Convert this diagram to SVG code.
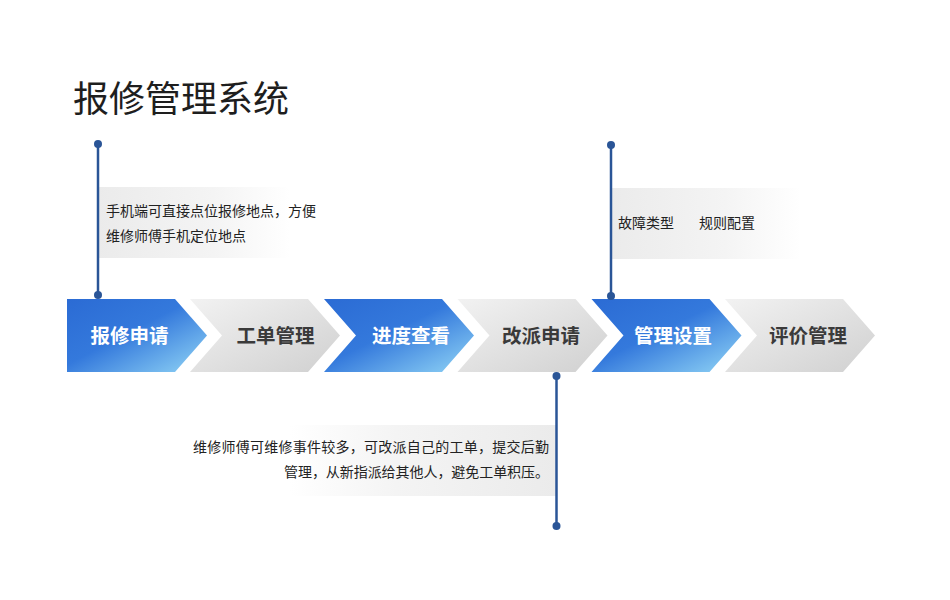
<svg xmlns="http://www.w3.org/2000/svg" width="950" height="600" viewBox="0 0 950 600">
<defs>
<linearGradient id="gBlue" x1="0" y1="0" x2="1" y2="1">
<stop offset="0" stop-color="#2b6bd4"/>
<stop offset="0.45" stop-color="#3479dc"/>
<stop offset="1" stop-color="#92d6f6"/>
</linearGradient>
<linearGradient id="gGray" x1="0" y1="0" x2="1" y2="1">
<stop offset="0" stop-color="#f2f2f2"/>
<stop offset="1" stop-color="#d0d0d0"/>
</linearGradient>
<linearGradient id="gFadeR" x1="0" y1="0" x2="1" y2="0">
<stop offset="0" stop-color="#ebebeb"/>
<stop offset="0.6" stop-color="#f4f4f4"/>
<stop offset="1" stop-color="#ffffff"/>
</linearGradient>
<linearGradient id="gFadeL" x1="0" y1="0" x2="1" y2="0">
<stop offset="0" stop-color="#ffffff"/>
<stop offset="0.4" stop-color="#f4f4f4"/>
<stop offset="1" stop-color="#ebebeb"/>
</linearGradient>
</defs>
<style>
text{font-family:"Noto Sans CJK SC","Liberation Sans",sans-serif;}
.title{font-size:36px;fill:#1e1e1e;}
.step{font-size:19.5px;font-weight:600;text-anchor:middle;}
.w{fill:#ffffff;}
.d{fill:#3a3a3a;}
.note{font-size:14px;fill:#222222;}
.blue{fill:url(#gBlue);}
.gray{fill:url(#gGray);}
.stem{stroke:#2a5597;stroke-width:2.5;fill:none;}
.dot{fill:#2a5597;}
</style>
<rect width="950" height="600" fill="#ffffff"/>
<text class="title" x="73" y="112">报修管理系统</text>

<g id="note1">
<rect x="98" y="187" width="192" height="71" fill="url(#gFadeR)"/>
<text class="note" x="106" y="216">手机端可直接点位报修地点，方便</text>
<text class="note" x="106" y="241">维修师傅手机定位地点</text>
</g>
<g id="note2">
<rect x="611" y="188" width="190" height="71" fill="url(#gFadeR)"/>
<text class="note" x="618" y="228">故障类型</text>
<text class="note" x="699" y="228">规则配置</text>
</g>
<g id="note3">
<rect x="290" y="425" width="266" height="71" fill="url(#gFadeL)"/>
<text class="note" x="193" y="452" textLength="356" lengthAdjust="spacing">维修师傅可维修事件较多，可改派自己的工单，提交后勤</text>
<text class="note" x="284" y="477" textLength="265" lengthAdjust="spacing">管理，从新指派给其他人，避免工单积压。</text>
</g>

<g id="step1">
<polygon class="blue" points="67,299 175,299 207,335.5 175,372 67,372"/>
<text class="step w" x="129.5" y="342.5">报修申请</text>
</g>
<g id="step2">
<polygon class="gray" points="190,299 308,299 340,335.5 308,372 190,372 222,335.5"/>
<text class="step d" x="275.5" y="342.5">工单管理</text>
</g>
<g id="step3">
<polygon class="blue" points="324,299 442,299 474,335.5 442,372 324,372 356,335.5"/>
<text class="step w" x="411" y="342.5">进度查看</text>
</g>
<g id="step4">
<polygon class="gray" points="457.5,299 575.5,299 607.5,335.5 575.5,372 457.5,372 489.5,335.5"/>
<text class="step d" x="541" y="342.5">改派申请</text>
</g>
<g id="step5">
<polygon class="blue" points="591.5,299 709.5,299 741.5,335.5 709.5,372 591.5,372 623.5,335.5"/>
<text class="step w" x="673" y="342.5">管理设置</text>
</g>
<g id="step6">
<polygon class="gray" points="725,299 843,299 875,335.5 843,372 725,372 757,335.5"/>
<text class="step d" x="808" y="342.5">评价管理</text>
</g>

<g id="connectors">
<line class="stem" x1="98" y1="144" x2="98" y2="295"/>
<circle class="dot" cx="98" cy="144" r="4"/>
<circle class="dot" cx="98" cy="295" r="4"/>
<line class="stem" x1="611" y1="145" x2="611" y2="296"/>
<circle class="dot" cx="611" cy="145" r="4"/>
<circle class="dot" cx="611" cy="296" r="4"/>
<line class="stem" x1="556.5" y1="376" x2="556.5" y2="526"/>
<circle class="dot" cx="556.5" cy="376" r="4"/>
<circle class="dot" cx="556.5" cy="526" r="4"/>
</g>
</svg>
